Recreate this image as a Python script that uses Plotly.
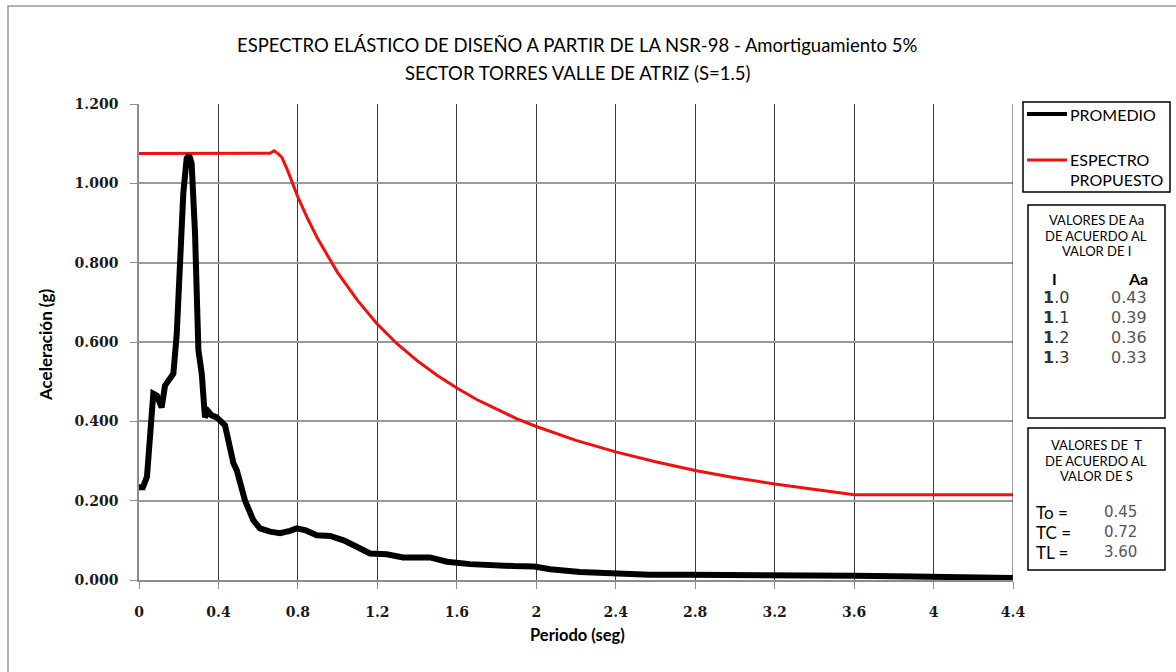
import plotly.graph_objects as go

# ---- data -------------------------------------------------------------
periodo_prom = [0.0, 0.02, 0.04, 0.055, 0.072, 0.09, 0.105, 0.114, 0.131, 0.148,
                0.173, 0.19, 0.206, 0.223, 0.24, 0.253, 0.265, 0.282, 0.299, 0.316,
                0.332, 0.349, 0.366, 0.391, 0.433, 0.458, 0.475, 0.492, 0.534, 0.576,
                0.609, 0.66, 0.71, 0.76, 0.794, 0.84, 0.895, 0.962, 1.03, 1.096,
                1.163, 1.247, 1.33, 1.465, 1.55, 1.667, 1.767, 1.885, 1.99, 2.07,
                2.22, 2.355, 2.57, 2.77, 3.0, 3.24, 3.45, 3.6, 3.9, 4.2, 4.4]
acel_prom = [0.234, 0.234, 0.26, 0.37, 0.47, 0.465, 0.445, 0.435, 0.49, 0.505,
             0.52, 0.62, 0.79, 0.975, 1.063, 1.07, 1.05, 0.875, 0.58, 0.52,
             0.41, 0.425, 0.415, 0.41, 0.39, 0.33, 0.295, 0.277, 0.2, 0.15,
             0.13, 0.122, 0.118, 0.124, 0.13, 0.125, 0.113, 0.111, 0.1, 0.084,
             0.067, 0.065, 0.057, 0.057, 0.046, 0.04, 0.036, 0.035, 0.034, 0.027,
             0.02, 0.016, 0.013, 0.013, 0.013, 0.011, 0.011, 0.011, 0.009, 0.007, 0.005]

periodo_esp = [0.0, 0.2, 0.4, 0.6, 0.66, 0.68, 0.70, 0.72, 0.75, 0.8, 0.85, 0.9,
               1.0, 1.1, 1.2, 1.3, 1.4, 1.5, 1.6, 1.7, 1.8, 1.9, 2.0, 2.2, 2.4,
               2.6, 2.8, 3.0, 3.2, 3.4, 3.6, 4.0, 4.4]
acel_esp = [1.075, 1.075, 1.075, 1.075, 1.076, 1.082, 1.075, 1.065, 1.03, 0.965,
            0.91, 0.86, 0.775, 0.705, 0.645, 0.595, 0.553, 0.516, 0.484, 0.455,
            0.43, 0.407, 0.387, 0.352, 0.323, 0.298, 0.276, 0.258, 0.242, 0.228,
            0.215, 0.215, 0.215]

x_ticks = [0, 0.4, 0.8, 1.2, 1.6, 2.0, 2.4, 2.8, 3.2, 3.6, 4.0, 4.4]
x_tick_text = ["0", "0.4", "0.8", "1.2", "1.6", "2", "2.4", "2.8", "3.2", "3.6", "4", "4.4"]
y_ticks = [0, 0.2, 0.4, 0.6, 0.8, 1.0, 1.2]
y_tick_text = ["0.000", "0.200", "0.400", "0.600", "0.800", "1.000", "1.200"]

tabla_I = ["1.0", "1.1", "1.2", "1.3"]
tabla_Aa = ["0.43", "0.39", "0.36", "0.33"]
tabla_T = ["To =", "TC =", "TL ="]
tabla_T_val = ["0.45", "0.72", "3.60"]

# ---- geometry (pixels of a 1176x672 canvas) ----------------------------
W, H = 1176, 672
L, R, T, B = 139, 1013, 104, 580


def px(xp):
    return (xp - L) / (R - L)


def py(yp):
    return (B - yp) / (B - T)


SANS = "Lato"
SERIF = "DejaVu Serif"

fig = go.Figure()
fig.add_trace(go.Scatter(x=periodo_esp, y=acel_esp, mode="lines", name="ESPECTRO PROPUESTO",
                         line=dict(color="#ee1111", width=3)))
fig.add_trace(go.Scatter(x=periodo_prom, y=acel_prom, mode="lines", name="PROMEDIO",
                         line=dict(color="black", width=6)))

fig.update_layout(
    width=W, height=H, autosize=False,
    margin=dict(l=L, r=W - R, t=T, b=H - B),
    paper_bgcolor="white", plot_bgcolor="white",
    showlegend=False,
)
fig.update_xaxes(
    range=[0, 4.4], tickvals=x_ticks, ticktext=x_tick_text,
    showgrid=True, gridcolor="#3a3a3a", gridwidth=1,
    showline=True, linecolor="#8c8c8c", linewidth=1.5,
    ticks="outside", ticklen=7, tickcolor="#8c8c8c",
    tickfont=dict(family=SERIF, size=14, color="#1a1a1a", weight="bold"),
    ticklabelstandoff=11, zeroline=False,
)
fig.update_yaxes(
    range=[0, 1.2], tickvals=y_ticks, ticktext=y_tick_text,
    showgrid=True, gridcolor="#9a9a9a", gridwidth=1.5,
    showline=True, linecolor="#8c8c8c", linewidth=1.5,
    ticks="outside", ticklen=7, tickcolor="#8c8c8c",
    tickfont=dict(family=SERIF, size=14, color="#1a1a1a", weight="bold"),
    ticklabelstandoff=9, zeroline=False,
)

shapes = []
# outer chart frame
shapes.append(dict(type="rect", xref="paper", yref="paper",
                   x0=px(8), x1=px(1185), y0=py(6), y1=py(690),
                   line=dict(color="#9a9a9a", width=1.5)))
# grid line at the right end of the period axis
shapes.append(dict(type="line", xref="x", yref="paper", x0=4.4, x1=4.4, y0=0, y1=1,
                   line=dict(color="#3a3a3a", width=1)))
# legend and table boxes
for (x0, y0, x1, y1) in [(1023, 102, 1170, 192), (1028, 205, 1165, 418), (1028, 428, 1165, 570)]:
    shapes.append(dict(type="rect", xref="paper", yref="paper",
                       x0=px(x0), x1=px(x1), y0=py(y0), y1=py(y1),
                       line=dict(color="black", width=1.5), fillcolor="white"))
# legend samples
shapes.append(dict(type="line", xref="paper", yref="paper", x0=px(1027), x1=px(1067),
                   y0=py(114), y1=py(114), line=dict(color="black", width=4)))
shapes.append(dict(type="line", xref="paper", yref="paper", x0=px(1027), x1=px(1067),
                   y0=py(160), y1=py(160), line=dict(color="#ee1111", width=3)))
fig.update_layout(shapes=shapes)

ann = []


def text(s, x, y, size, xanchor="center", color="black", family=SANS, **kw):
    ann.append(dict(text=s, x=px(x), y=py(y), xref="paper", yref="paper",
                    xanchor=xanchor, yanchor="middle", showarrow=False,
                    font=dict(family=family, size=size, color=color), **kw))


# titles
text("ESPECTRO ELÁSTICO DE DISEÑO A PARTIR DE LA NSR-98 - Amortiguamiento 5%", 577, 45, 18.5)
text("SECTOR TORRES VALLE DE ATRIZ (S=1.5)", 577, 73, 18.5)
text("<b>Periodo (seg)</b>", 577, 635, 16.5)
text("<b>Aceleración (g)</b>", 45, 345, 17, textangle=-90)

# legend
text("PROMEDIO", 1068, 114, 16, xanchor="left")
text("ESPECTRO", 1068, 159, 16, xanchor="left")
text("PROPUESTO", 1068, 179, 16, xanchor="left")

# table of Aa values
text("VALORES DE Aa", 1096, 220, 13)
text("DE ACUERDO AL", 1096, 236, 13)
text("VALOR DE I", 1096, 251, 13)
text("<b>I</b>", 1054, 278, 16)
text("<b>Aa</b>", 1138, 278, 16)
for i, (vi, va) in enumerate(zip(tabla_I, tabla_Aa)):
    yy = 297 + 20 * i
    text("<b>" + vi[0] + "</b>" + vi[1:], 1056, yy, 16, family="DejaVu Sans", color="#333")
    text(va, 1129, yy, 16, family="DejaVu Sans", color="#555")

# table of T values
text("VALORES DE  T", 1096, 445, 13)
text("DE ACUERDO AL", 1096, 461, 13)
text("VALOR DE S", 1096, 476, 13)
for i, (lab, val) in enumerate(zip(tabla_T, tabla_T_val)):
    yy = 512 + 20 * i
    text(lab, 1034, yy, 17, xanchor="left")
    text(val, 1120, yy, 15, family="DejaVu Sans", color="#555")

fig.update_layout(annotations=ann)

fig.write_html("out.html")
